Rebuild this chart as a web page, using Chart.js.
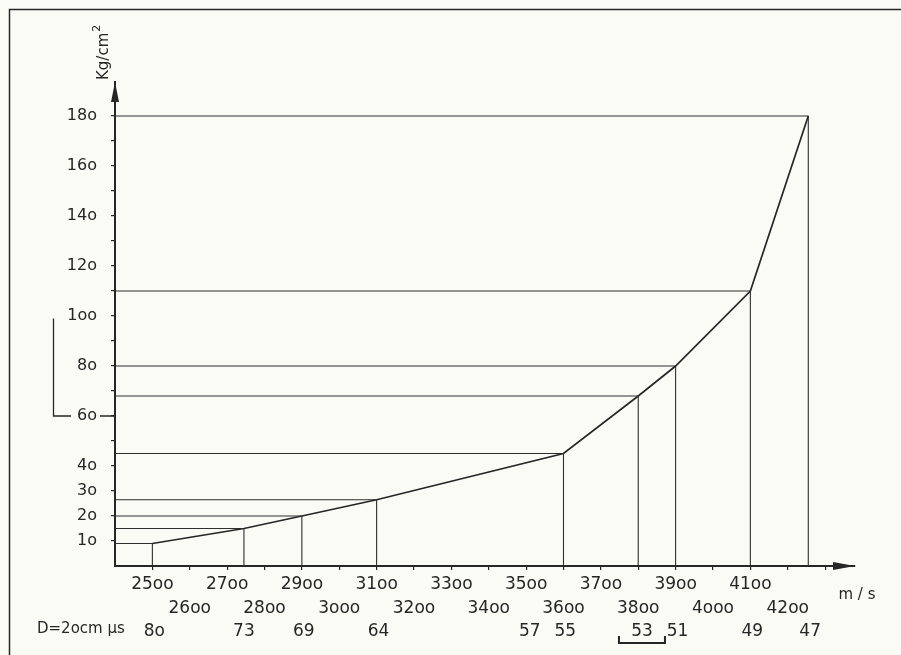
<!DOCTYPE html>
<html>
<head>
<meta charset="utf-8">
<script src="https://cdn.jsdelivr.net/npm/chart.js@4"></script>
<style>
  html, body { margin: 0; padding: 0; background: #fbfbf6; }
  #wrap { position: relative; width: 901px; height: 655px; }
</style>
</head>
<body>
<div id="wrap"><canvas id="chart"></canvas></div>
<script>
// Velocity (m/s) against pressure (Kg/cm2)
const speeds = [2500, 2745, 2900, 3100, 3600, 3800, 3900, 4100, 4255];
const pressures = [9, 15, 20, 26.5, 45, 68, 80, 110, 180];

// x axis, one tick per 100 m/s, labels in two staggered rows
const xTicks = [2500, 2600, 2700, 2800, 2900, 3000, 3100, 3200, 3300, 3400,
                3500, 3600, 3700, 3800, 3900, 4000, 4100, 4200, 4300];
const xTickLabels = ["25oo", "26oo", "27oo", "28oo", "29oo", "3ooo", "31oo", "32oo", "33oo", "34oo",
                     "35oo", "36oo", "37oo", "38oo", "39oo", "4ooo", "41oo", "42oo", ""];

// y axis, one tick per 10 Kg/cm2
const yTicks = [10, 20, 30, 40, 50, 60, 70, 80, 90, 100, 110, 120, 130, 140, 150, 160, 170, 180];
const yTickLabels = ["1o", "2o", "3o", "4o", "", "6o", "", "8o", "", "1oo", "", "12o", "", "14o", "", "16o", "", "18o"];

// travel time over D = 20 cm (μs), written under the axis
const timeAt = [2505, 2745, 2905, 3105, 3510, 3605, 3810, 3905, 4105, 4260];
const timeLabels = ["8o", "73", "69", "64", "57", "55", "53", "51", "49", "47"];

const xMin = 2400, xMax = 4380;
const yMin = 0, yMax = 193.6;

const ink = "#262626";
const font = "'DejaVu Sans', sans-serif";

// drop lines: from the y axis across to the point, then down to the x axis
const dropSets = speeds.map((s, i) => ({
    data: [{x: xMin, y: pressures[i]}, {x: s, y: pressures[i]}, {x: s, y: 0}],
    borderColor: "#2e2e2e",
    borderWidth: 1.1,
    pointRadius: 0,
    tension: 0
}));

const curve = {
    data: speeds.map((s, i) => ({x: s, y: pressures[i]})),
    borderColor: ink,
    borderWidth: 1.7,
    pointRadius: 0,
    tension: 0
};

// bits of the drawing that are not axes or series
const decor = {
    id: "decor",
    afterDraw(chart) {
        const ctx = chart.ctx;
        const a = chart.chartArea;
        const y = chart.scales.y;
        const mu = chart.scales.xmu;
        ctx.save();
        ctx.strokeStyle = ink;
        ctx.fillStyle = ink;

        // frame (left and top edges only)
        ctx.lineWidth = 1.5;
        ctx.beginPath();
        ctx.moveTo(9.5, 655);
        ctx.lineTo(9.5, 9.5);
        ctx.lineTo(901, 9.5);
        ctx.stroke();

        // arrow heads
        ctx.beginPath();
        ctx.moveTo(a.left, a.top);
        ctx.lineTo(a.left - 4, a.top + 20);
        ctx.lineTo(a.left + 4, a.top + 20);
        ctx.closePath();
        ctx.fill();
        ctx.beginPath();
        ctx.moveTo(a.right, a.bottom);
        ctx.lineTo(a.right - 22, a.bottom - 4);
        ctx.lineTo(a.right - 22, a.bottom + 4);
        ctx.closePath();
        ctx.fill();

        // bracket on the left ending at 60
        const y60 = y.getPixelForValue(60);
        ctx.lineWidth = 1.3;
        ctx.beginPath();
        ctx.moveTo(53.5, y.getPixelForValue(99));
        ctx.lineTo(53.5, y60);
        ctx.lineTo(71, y60);
        ctx.moveTo(100, y60);
        ctx.lineTo(a.left, y60);
        ctx.stroke();

        // bracket under 53
        const cx = mu.getPixelForValue(3810);
        ctx.lineWidth = 2;
        ctx.beginPath();
        ctx.moveTo(cx - 23, 636);
        ctx.lineTo(cx - 23, 643);
        ctx.lineTo(cx + 23, 643);
        ctx.lineTo(cx + 23, 636);
        ctx.stroke();

        // axis titles and row caption
        ctx.textBaseline = "middle";
        ctx.textAlign = "center";
        ctx.font = "15px " + font;
        ctx.fillText("m / s", 857, 595);
        ctx.textAlign = "left";
        ctx.fillText("D=2ocm μs", 37, 629);

        ctx.translate(108, 80);
        ctx.rotate(-Math.PI / 2);
        ctx.textBaseline = "alphabetic";
        ctx.font = "15px " + font;
        ctx.fillText("Kg/cm", 0, 0);
        const w = ctx.measureText("Kg/cm").width;
        ctx.font = "11px " + font;
        ctx.fillText("2", w + 1, -8);
        ctx.restore();
    }
};

new Chart(document.getElementById("chart"), {
    type: "line",
    data: { datasets: [...dropSets, curve] },
    options: {
        responsive: true,
        maintainAspectRatio: false,
        animation: false,
        layout: { padding: { left: 0, top: 82, right: 46, bottom: 0 } },
        plugins: { legend: { display: false }, tooltip: { enabled: false } },
        scales: {
            x: {
                type: "linear",
                position: "bottom",
                weight: 0,
                min: xMin,
                max: xMax,
                afterBuildTicks: s => { s.ticks = xTicks.map(v => ({value: v})); },
                afterFit: s => { s.height = 54; },
                grid: { display: true, drawOnChartArea: false, drawTicks: true, tickLength: 4, color: ink, lineWidth: 1.2 },
                border: { display: true, color: ink, width: 2 },
                ticks: {
                    autoSkip: false,
                    maxRotation: 0,
                    minRotation: 0,
                    padding: 3,
                    color: ink,
                    font: { family: font, size: 17, lineHeight: 1.41 },
                    callback: v => {
                        const i = xTicks.indexOf(v);
                        return i % 2 === 0 ? [xTickLabels[i]] : ["", xTickLabels[i]];
                    }
                }
            },
            xmu: {
                type: "linear",
                position: "bottom",
                weight: 1,
                min: xMin,
                max: xMax,
                afterBuildTicks: s => { s.ticks = timeAt.map(v => ({value: v})); },
                afterFit: s => { s.height = 35; },
                grid: { display: false, drawTicks: false },
                border: { display: false },
                ticks: {
                    autoSkip: false,
                    maxRotation: 0,
                    minRotation: 0,
                    padding: 1,
                    color: ink,
                    font: { family: font, size: 17 },
                    callback: v => timeLabels[timeAt.indexOf(v)]
                }
            },
            y: {
                type: "linear",
                position: "left",
                min: yMin,
                max: yMax,
                afterBuildTicks: s => { s.ticks = yTicks.map(v => ({value: v})); },
                afterFit: s => { s.width = 115; },
                grid: { display: true, drawOnChartArea: false, drawTicks: true, tickLength: 4, color: ink, lineWidth: 1.2 },
                border: { display: true, color: ink, width: 2 },
                ticks: {
                    padding: 14,
                    color: ink,
                    font: { family: font, size: 16 },
                    callback: v => yTickLabels[yTicks.indexOf(v)]
                }
            }
        }
    },
    plugins: [decor]
});
</script>
</body>
</html>
